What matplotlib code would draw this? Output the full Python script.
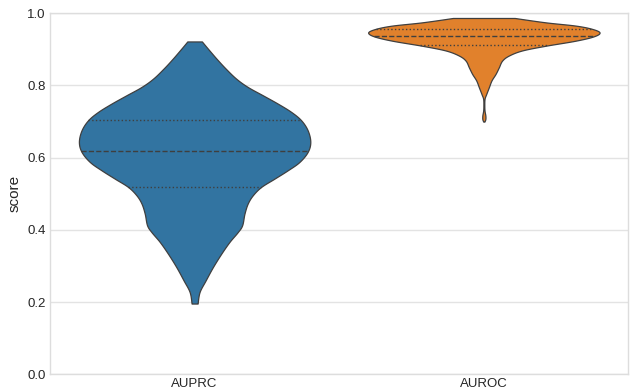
import numpy as np
import matplotlib
matplotlib.use("Agg")
import matplotlib.pyplot as plt

plt.rcParams["font.family"] = ["Liberation Sans", "DejaVu Sans"]

# Metrics shown on the x axis
metrics = ["AUPRC", "AUROC"]

# Density profile of AUPRC scores (score, density relative to the peak)
auprc_scores = [0.196, 0.228, 0.260, 0.297, 0.334, 0.367, 0.394, 0.413, 0.445,
                0.473, 0.496, 0.519, 0.542, 0.565, 0.588, 0.616, 0.644, 0.676,
                0.704, 0.727, 0.750, 0.773, 0.796, 0.819, 0.847, 0.874, 0.902,
                0.922]
auprc_density = [0.026, 0.043, 0.095, 0.158, 0.230, 0.302, 0.373, 0.411, 0.431,
                 0.459, 0.503, 0.575, 0.690, 0.804, 0.905, 0.977, 1.000, 0.977,
                 0.920, 0.834, 0.718, 0.589, 0.459, 0.359, 0.268, 0.190, 0.115,
                 0.063]
auprc_quartiles = [0.519, 0.618, 0.705]

# Density profile of AUROC scores
auroc_scores = [0.700, 0.707, 0.717, 0.730, 0.744, 0.763, 0.776, 0.795, 0.814,
                0.832, 0.850, 0.869, 0.883, 0.897, 0.910, 0.924, 0.936, 0.947,
                0.957, 0.966, 0.975, 0.987]
auroc_density = [0.005, 0.013, 0.013, 0.006, 0.004, 0.006, 0.020, 0.043, 0.066,
                 0.101, 0.129, 0.158, 0.216, 0.330, 0.532, 0.791, 0.948, 1.000,
                 0.934, 0.791, 0.532, 0.267]
auroc_quartiles = [0.911, 0.936, 0.957]

profiles = [
    (auprc_scores, auprc_density, auprc_quartiles),
    (auroc_scores, auroc_density, auroc_quartiles),
]
colors = ["#3274a1", "#e1812c"]
line_color = "#3f3f3f"
violin_width = 0.8


def smooth_outline(scores, dens, steps=10):
    """Catmull-Rom curve through the profile points, for a smooth outline."""
    pts = np.column_stack([np.asarray(scores) * 3.6, np.asarray(dens) * 1.16])
    padded = np.vstack([pts[0], pts, pts[-1]])
    out = [pts[0]]
    for i in range(1, len(padded) - 2):
        p0, p1, p2, p3 = padded[i - 1], padded[i], padded[i + 1], padded[i + 2]
        for t in np.linspace(0, 1, steps + 1)[1:]:
            t2, t3 = t * t, t * t * t
            pt = 0.5 * ((2 * p1) + (-p0 + p2) * t
                        + (2 * p0 - 5 * p1 + 4 * p2 - p3) * t2
                        + (-p0 + 3 * p1 - 3 * p2 + p3) * t3)
            out.append(pt)
    out = np.array(out)
    return out[:, 0] / 3.6, np.clip(out[:, 1] / 1.16, 0, None)


fig = plt.figure(figsize=(6.31, 3.91), dpi=100)
ax = fig.add_axes([0.0792, 0.0427, 0.9168, 0.9233])

vpstats = []
for scores, dens, q in profiles:
    s, d = smooth_outline(scores, dens)
    vpstats.append(dict(coords=s, vals=d, mean=q[1], median=q[1],
                        min=min(scores), max=max(scores)))

positions = np.arange(len(metrics))
parts = ax.violin(vpstats, positions=positions, widths=violin_width,
                  showmeans=False, showextrema=False, showmedians=False)
for body, c in zip(parts["bodies"], colors):
    body.set_facecolor(c)
    body.set_edgecolor(line_color)
    body.set_linewidth(0.9)
    body.set_alpha(1)
    body.set_zorder(2)

# Quartile lines spanning the violin at each quartile
for pos, (scores, dens, q), st in zip(positions, profiles, vpstats):
    scale = (violin_width / 2) / np.max(st["vals"])
    for val, ls in zip(q, [":", "--", ":"]):
        half = np.interp(val, st["coords"], st["vals"]) * scale
        ax.plot([pos - half, pos + half], [val, val], color=line_color,
                linestyle=ls, linewidth=1.0, zorder=3)

ax.set_xlim(-0.5, 1.5)
ax.set_ylim(0, 1.0)
ax.set_xticks(positions)
ax.set_xticklabels(metrics)
ax.set_yticks(np.arange(0, 1.01, 0.2))
ax.set_yticklabels([f"{t:.1f}" for t in np.arange(0, 1.01, 0.2)])
ax.set_ylabel("score", fontsize=11, color="#262626", labelpad=4)

ax.tick_params(axis="both", length=0, labelsize=9.5, labelcolor="#262626")
ax.tick_params(axis="y", pad=3)
ax.tick_params(axis="x", pad=2.5)

ax.set_axisbelow(True)
ax.yaxis.grid(True, color="#e3e3e3", linewidth=1.0)
ax.xaxis.grid(False)
for sp in ax.spines.values():
    sp.set_color("#dddddd")
    sp.set_linewidth(1.0)

fig.savefig("out.png", dpi=100)
